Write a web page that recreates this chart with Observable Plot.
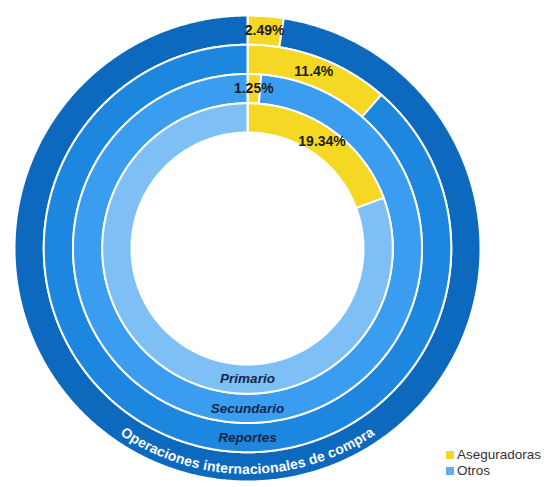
<!DOCTYPE html>
<html>
<head>
<meta charset="utf-8">
<script src="https://cdn.jsdelivr.net/npm/d3@7"></script>
<script src="https://cdn.jsdelivr.net/npm/@observablehq/plot@0.6"></script>
<style>
  body { margin: 0; background: #fff; }
  #chart { position: relative; width: 550px; height: 487px; }
  #legend { position: absolute; left: 446px; top: 447px; }
  #legend svg { margin-right: 3px !important; }
</style>
</head>
<body>
<div id="chart"><div id="legend"></div></div>
<script>
// Rings from the outside in, and the share (%) held by insurers in each
const rings = ["Operaciones internacionales de compra", "Reportes", "Secundario", "Primario"];
const aseguradoras = [2.49, 11.4, 1.25, 19.34];
const series = ["Aseguradoras", "Otros"];

// Palette
const YELLOW = "#f5d823";
const ringBlues = ["#0d69bd", "#1d86de", "#3b9def", "#7ebff6"];
const legendBlue = "#5eadf2";
const FONT = "'Liberation Sans', Arial, sans-serif";

// Ring geometry (plot units = pixels)
const HOLE = 116, BAND = 29.25;
const inner = i => HOLE + (rings.length - 1 - i) * BAND;
const outer = i => inner(i) + BAND;
const mid = i => (inner(i) + outer(i)) / 2;

// Each ring: insurers first, then the rest, clockwise from 12 o'clock
const segments = rings.flatMap((ring, i) => {
  const a = aseguradoras[i] / 100;
  return [
    {ring, i, series: series[0], value: aseguradoras[i], start: 0, end: a, fill: YELLOW},
    {ring, i, series: series[1], value: +(100 - aseguradoras[i]).toFixed(2), start: a, end: 1, fill: ringBlues[i]}
  ];
});

// Polar -> cartesian (angle measured clockwise from the top, y up)
const polar = (frac, r) => [r * Math.sin(2 * Math.PI * frac), r * Math.cos(2 * Math.PI * frac)];

// Closed outline of an annular sector
function outline(s) {
  const r0 = inner(s.i), r1 = outer(s.i);
  const n = Math.max(2, Math.ceil((s.end - s.start) * 720));
  const fr = d3.range(n + 1).map(k => s.start + (s.end - s.start) * k / n);
  const pt = (f, r) => { const [x, y] = polar(f, r); return {id: s.ring + "|" + s.series, fill: s.fill, x, y}; };
  const pts = [...fr.map(f => pt(f, r1)), ...fr.slice().reverse().map(f => pt(f, r0))];
  pts.push(pts[0]);
  return pts;
}
const outlines = segments.flatMap(outline);

// Value labels at the middle of each insurer sector
const valueLabels = segments.filter(s => s.series === series[0]).map(s => {
  const [x, y] = polar((s.start + s.end) / 2, mid(s.i));
  return {x, y, text: `${s.value}%`};
});

// Ring names at the bottom of the three inner rings
const ringLabels = rings.slice(1).map((ring, k) => {
  const [x, y] = polar(0.5, mid(k + 1));
  return {x, y, text: ring};
});

// Outer ring name laid out letter by letter along its lower arc
const TITLE_SIZE = 14, TITLE_R = outer(0) - 12;
const ctx = document.createElement("canvas").getContext("2d");
ctx.font = `bold ${TITLE_SIZE}px ${FONT}`;
const chars = Array.from(rings[0]);
const widths = chars.map(c => ctx.measureText(c).width);
const total = d3.sum(widths);
let run = -total / 2;
const titleChars = chars.map((c, k) => {
  const s = run + widths[k] / 2;           // arc position of the glyph centre
  run += widths[k];
  const frac = 0.5 - s / (2 * Math.PI * TITLE_R);
  const [x, y] = polar(frac, TITLE_R);
  return {x, y, text: c, rotate: (frac - 0.5) * 360};
}).filter(d => d.text.trim() !== "");

const chart = Plot.plot({
  width: 550,
  height: 487,
  margin: 0,
  x: {domain: [-247, 303], axis: null},
  y: {domain: [-239, 248], axis: null},
  color: {type: "identity"},
  style: {fontFamily: FONT, background: "#fff"},
  marks: [
    Plot.line(outlines, {x: "x", y: "y", z: "id", fill: "fill", stroke: "#fff", strokeWidth: 2, strokeLinejoin: "round"}),
    Plot.text(valueLabels, {x: "x", y: "y", text: "text", fontSize: 14, fontWeight: "bold", fill: "#1c1c1c"}),
    Plot.text(ringLabels, {x: "x", y: "y", text: "text", fontSize: 13.5, fontWeight: "bold", fontStyle: "italic", fill: "#14284a"}),
    Plot.text(titleChars, {x: "x", y: "y", text: "text", rotate: "rotate", fontSize: TITLE_SIZE, fontWeight: "bold", fill: "#fff"})
  ]
});
document.getElementById("chart").prepend(chart);

const legend = Plot.legend({
  color: {type: "ordinal", domain: series, range: [YELLOW, legendBlue]},
  swatchSize: 8,
  columns: 1,
  style: {fontFamily: FONT, fontSize: "13.5px", color: "#333"}
});
document.getElementById("legend").append(legend);
</script>
</body>
</html>
